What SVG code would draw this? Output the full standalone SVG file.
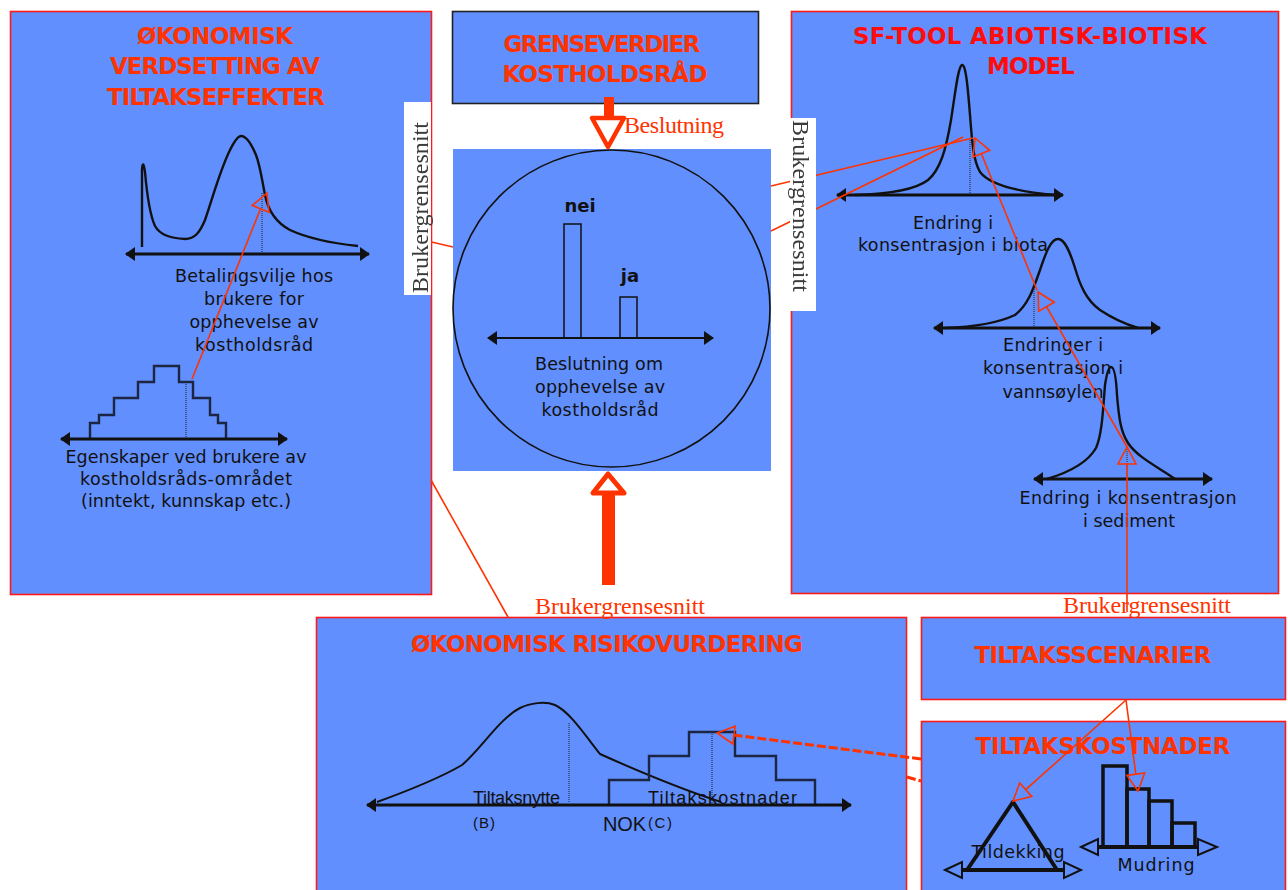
<svg xmlns="http://www.w3.org/2000/svg" width="1288" height="890" viewBox="0 0 1288 890">
<style>
.panel{fill:#618ffd;stroke:#ff1a1a;stroke-width:1.6}
.title{font-family:"DejaVu Sans","Liberation Sans",sans-serif;font-weight:bold;font-size:23px;fill:#ff3300;text-anchor:middle}
.lbl{font-family:"DejaVu Sans","Liberation Sans",sans-serif;font-size:17.5px;fill:#111;text-anchor:middle}
.lbl2{font-family:"Liberation Sans","DejaVu Sans",sans-serif;font-size:18px;fill:#111}
.serif{font-family:"Liberation Serif","DejaVu Serif",serif;font-size:24px;fill:#ff3300}
.curve{fill:none;stroke:#111;stroke-width:2.4;stroke-linejoin:round}
.steps{fill:none;stroke:#1c2541;stroke-width:2.4}
.axis{stroke:#111;stroke-width:3;marker-start:url(#ah);marker-end:url(#ah)}
.dot{stroke:#222;stroke-width:1;stroke-dasharray:1 1}
.red{fill:none;stroke:#ff3300;stroke-width:1.6}
.redarrow{fill:none;stroke:#ff3300;stroke-width:1.6;marker-end:url(#open)}
.dash{fill:none;stroke:#ff3300;stroke-width:3;stroke-dasharray:9 3}
.ui{font-family:"Liberation Serif","DejaVu Serif",serif;font-size:24px;fill:#3a3a3a}
</style>
<defs>
<marker id="ah" viewBox="0 0 10 14" refX="9" refY="7" markerWidth="10" markerHeight="14" markerUnits="userSpaceOnUse" orient="auto-start-reverse">
<path d="M0,0 L10,7 L0,14 Z" fill="#111"/>
</marker>
<marker id="open" viewBox="-1 -1 19 20" refX="0" refY="9" markerWidth="19" markerHeight="20" markerUnits="userSpaceOnUse" orient="auto" overflow="visible">
<path d="M0,0 L17,9 L0,18 Z" fill="none" stroke="#ff3300" stroke-width="1.6" stroke-dasharray="none"/>
</marker>
<filter id="soft" x="-0.2" y="-0.2" width="1.4" height="1.4"><feGaussianBlur stdDeviation="0.5"/></filter>
</defs>
<rect width="1288" height="890" fill="#fff"/>

<g id="verdsetting">
<rect class="panel" x="10.5" y="11.5" width="421" height="583"/>
<text class="title" x="215" y="44" textLength="156">ØKONOMISK</text>
<text class="title" x="215" y="74" textLength="210">VERDSETTING AV</text>
<text class="title" x="216" y="105" textLength="218">TILTAKSEFFEKTER</text>
<path class="curve" d="M142,247 L142,170 Q143,158 145,172 C147,195 150,215 155,226 C160,235 170,238 185,239 C195,239 200,232 205,220 C212,200 220,170 230,150 C235,140 238,136 241,136 C246,136 251,143 256,155 C260,165 262,180 265,195 C268,210 275,222 290,230 C305,237 330,243 358,246"/>
<line class="dot" x1="262" y1="193" x2="262" y2="252"/>
<line class="axis" x1="126" y1="254" x2="369" y2="254"/>
<text class="lbl" x="254" y="282" textLength="158">Betalingsvilje hos</text>
<text class="lbl" x="254" y="305" textLength="100">brukere for</text>
<text class="lbl" x="254" y="328" textLength="129">opphevelse av</text>
<text class="lbl" x="254" y="351" textLength="118">kostholdsråd</text>
<path class="steps" d="M90,439 V423 H99 V415 H114 V398 H138 V382 H154 V366 H179 V382 H193 V398 H210 V415 H218 V423 H226 V439"/>
<line class="dot" x1="186" y1="382" x2="186" y2="439"/>
<line class="axis" x1="61" y1="439" x2="287" y2="439"/>
<text class="lbl" x="186" y="463" textLength="241">Egenskaper ved brukere av</text>
<text class="lbl" x="186" y="485" textLength="212">kostholdsråds-området</text>
<text class="lbl" x="186" y="507" textLength="210">(inntekt, kunnskap etc.)</text>
</g>

<g id="grenseverdier">
<rect x="452.5" y="11.5" width="306" height="92" fill="#618ffd" stroke="#222" stroke-width="1.6"/>
<text class="title" x="602" y="52" textLength="197">GRENSEVERDIER</text>
<text class="title" x="605" y="82" textLength="205">KOSTHOLDSRÅD</text>
</g>

<g id="beslutning">
<rect x="453" y="149" width="318" height="322" fill="#618ffd"/>
<circle cx="611.5" cy="308.5" r="158.5" fill="none" stroke="#111" stroke-width="1.6"/>
<text x="580" y="212" font-family="DejaVu Sans, sans-serif" font-weight="bold" font-size="18" fill="#111" text-anchor="middle">nei</text>
<text x="630" y="282" font-family="DejaVu Sans, sans-serif" font-weight="bold" font-size="18" fill="#111" text-anchor="middle">ja</text>
<rect x="564" y="224" width="17" height="114" fill="none" stroke="#111" stroke-width="1.5"/>
<rect x="620" y="297" width="17" height="41" fill="none" stroke="#111" stroke-width="1.5"/>
<line class="axis" x1="488" y1="338" x2="713" y2="338" style="stroke-width:2"/>
<text class="lbl" x="599" y="370" textLength="128">Beslutning om</text>
<text class="lbl" x="600" y="393" textLength="130">opphevelse av</text>
<text class="lbl" x="600" y="416" textLength="117">kostholdsråd</text>
</g>

<g id="sf-tool">
<rect class="panel" x="791.5" y="11.5" width="487" height="582"/>
<text class="title" x="1030" y="44" textLength="354" style="fill:#ff0d0d">SF-TOOL ABIOTISK-BIOTISK</text>
<text class="title" x="1031" y="74" textLength="88" style="fill:#ff0d0d">MODEL</text>
<path class="curve" d="M855,195 C890,194 915,190 928,180 C940,170 946,150 951,120 C955,95 958,66 962,65 C966,64 968,90 970,115 C972,140 973,160 980,172 C990,185 1020,192 1055,195"/>
<line class="dot" x1="970" y1="140" x2="970" y2="193"/>
<line class="axis" x1="837" y1="195" x2="1063" y2="195"/>
<text class="lbl" x="953" y="229" textLength="80">Endring i</text>
<text class="lbl" x="953" y="251" textLength="190">konsentrasjon i biota</text>
<path class="curve" d="M945,328 C975,327 1000,322 1015,315 C1028,305 1033,290 1040,270 C1046,252 1051,239 1058,239 C1065,239 1070,252 1075,268 C1080,285 1086,300 1100,310 C1112,318 1125,324 1138,328"/>
<line class="dot" x1="1034" y1="285" x2="1034" y2="327"/>
<line class="axis" x1="934" y1="328" x2="1160" y2="328"/>
<text class="lbl" x="1053" y="351" textLength="100">Endringer i</text>
<text class="lbl" x="1053" y="374" textLength="140">konsentrasjon i</text>
<text class="lbl" x="1053" y="398" textLength="101">vannsøylen</text>
<path class="curve" d="M1047,479 C1070,472 1088,462 1096,448 C1102,435 1103,410 1105,385 C1107,372 1109,367 1111,367 C1114,367 1116,375 1117,395 C1119,420 1121,432 1128,443 C1138,458 1160,468 1175,479"/>
<line class="dot" x1="1127" y1="447" x2="1127" y2="478"/>
<line class="axis" x1="1034" y1="479" x2="1212" y2="479"/>
<text class="lbl" x="1128" y="504" textLength="217">Endring i konsentrasjon</text>
<text class="lbl" x="1129" y="527" textLength="92">i sediment</text>
</g>

<g id="risikovurdering">
<rect class="panel" x="316.5" y="617.5" width="590" height="280"/>
<text class="title" x="607" y="652" textLength="392">ØKONOMISK RISIKOVURDERING</text>
<path class="curve" d="M377,802 C410,790 440,778 462,765 C480,750 500,718 520,708 C530,703 545,701 555,705 C570,712 585,735 600,754 C640,772 690,792 721,802" style="stroke-width:2"/>
<line class="dot" x1="569" y1="723" x2="569" y2="803"/>
<path class="steps" d="M609,805 V780 H649 V756 H689 V732 H735 V756 H776 V780 H815 V805"/>
<line class="dot" x1="712" y1="732" x2="712" y2="804"/>
<line class="axis" x1="367" y1="805" x2="851" y2="805"/>
<text class="lbl2" x="473" y="804" textLength="87">Tiltaksnytte</text>
<text class="lbl2" x="648" y="804" textLength="149">Tiltakskostnader</text>
<text class="lbl2" x="473" y="828" style="font-size:15px" textLength="22">(B)</text>
<text class="lbl2" x="603" y="831" style="font-size:20px" textLength="43">NOK</text>
<text class="lbl2" x="648" y="828" style="font-size:15px" textLength="24">(C)</text>
</g>

<g id="tiltaksscenarier">
<rect class="panel" x="921.5" y="617.5" width="364" height="82"/>
<text class="title" x="1093" y="663" textLength="237">TILTAKSSCENARIER</text>
</g>

<g id="tiltakskostnader">
<rect class="panel" x="921.5" y="721.5" width="364" height="180"/>
<text class="title" x="1103" y="754" textLength="255">TILTAKSKOSTNADER</text>
<polygon points="1013,802 967,870 1057,870" fill="none" stroke="#111" stroke-width="4" stroke-linejoin="round"/>
<line x1="962" y1="870" x2="1064" y2="870" stroke="#111" stroke-width="4"/>
<polygon points="945,870 962,862 962,878" fill="none" stroke="#111" stroke-width="2"/>
<polygon points="1064,862 1064,878 1081,870" fill="none" stroke="#111" stroke-width="2"/>
<text class="lbl" x="1018" y="858" textLength="93">Tildekking</text>
<rect x="1103" y="766" width="24" height="81" fill="none" stroke="#111" stroke-width="3.5"/>
<rect x="1127" y="789" width="22" height="58" fill="none" stroke="#111" stroke-width="3.5"/>
<rect x="1149" y="801" width="23" height="46" fill="none" stroke="#111" stroke-width="3.5"/>
<rect x="1172" y="823" width="23" height="24" fill="none" stroke="#111" stroke-width="3.5"/>
<line x1="1098" y1="847" x2="1198" y2="847" stroke="#111" stroke-width="4"/>
<polygon points="1081,847 1098,839 1098,855" fill="none" stroke="#111" stroke-width="2"/>
<polygon points="1198,839 1198,855 1217,847" fill="none" stroke="#111" stroke-width="2"/>
<text class="lbl" x="1156" y="871" textLength="77">Mudring</text>
</g>

<g id="connectors">
<line class="red" x1="431" y1="480" x2="508" y2="617"/>
<line class="red" x1="410" y1="237" x2="453" y2="247"/>
<line class="red" x1="771" y1="186" x2="973" y2="138"/>
<line class="red" x1="771" y1="231" x2="963" y2="137"/>
<line class="redarrow" x1="192" y1="379" x2="260.6" y2="208.8"/>
<line class="redarrow" x1="1127" y1="612" x2="1127" y2="464"/>
<line class="redarrow" x1="1127" y1="447" x2="1046.5" y2="306.7"/>
<line class="redarrow" x1="1037" y1="290" x2="981.4" y2="153.7"/>
<line class="redarrow" x1="1126" y1="700" x2="1025.7" y2="789.7"/>
<line class="redarrow" x1="1126" y1="700" x2="1135.8" y2="774.2"/>
<line class="dash" x1="921" y1="759" x2="734" y2="735.1" marker-end="url(#open)"/>
<line class="dash" x1="907" y1="777" x2="921" y2="781"/>
<rect x="604" y="97" width="10" height="21" fill="#ff3300"/>
<polygon points="592,118 624,118 608,147" fill="none" stroke="#ff3300" stroke-width="4.5" stroke-linejoin="round"/>
<rect x="602" y="494" width="13" height="91" fill="#ff3300"/>
<polygon points="608,474 593,493 624,493" fill="#fff" stroke="#ff3300" stroke-width="5" stroke-linejoin="round"/>
<text class="serif" x="624" y="133" textLength="100">Beslutning</text>
<text class="serif" x="535" y="614" textLength="170">Brukergrensesnitt</text>
<text class="serif" x="1063" y="613" textLength="168">Brukergrensesnitt</text>
</g>

<g id="ui-left">
<rect x="404" y="102" width="27" height="193" fill="#fff"/>
<text class="ui" transform="translate(428,293) rotate(-90)" textLength="171" filter="url(#soft)">Brukergrensesnitt</text>
</g>

<g id="ui-right">
<rect x="790" y="118" width="26" height="193" fill="#fff"/>
<text class="ui" transform="translate(793,120) rotate(90)" textLength="172" filter="url(#soft)">Brukergrensesnitt</text>
</g>
</svg>
